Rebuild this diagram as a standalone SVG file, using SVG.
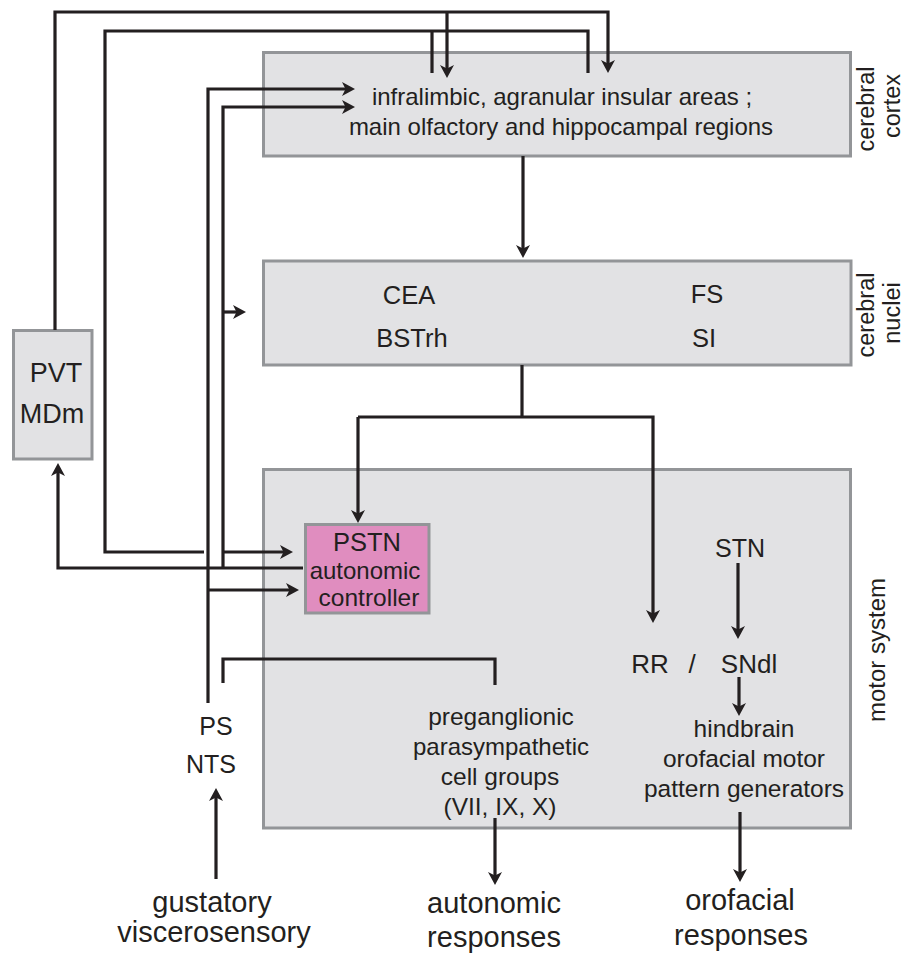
<svg xmlns="http://www.w3.org/2000/svg" width="907" height="956" viewBox="0 0 907 956">
<style>
.box{fill:#e2e2e4;stroke:#939598;stroke-width:3}
.pink{fill:#e08dbf;stroke:#939598;stroke-width:3}
text{font-family:"Liberation Sans",Arial,sans-serif;fill:#231f20;text-anchor:middle}
.c{fill:none;stroke:#231f20;stroke-width:3.2;stroke-linejoin:miter}
.a{marker-end:url(#ah)}
</style>
<defs>
<marker id="ah" viewBox="-10 -8 16 16" refX="0" refY="0" markerWidth="16" markerHeight="16" orient="auto" markerUnits="userSpaceOnUse">
<path d="M-9,-7 L4,0 L-9,7 L-5.5,0 z" fill="#231f20"/>
</marker>
</defs>
<rect width="907" height="956" fill="#ffffff"/>
<g id="cortex">
<rect class="box" x="263.5" y="52.5" width="587" height="103.5"/>
<text x="562" y="105" font-size="24">infralimbic, agranular insular areas ;</text>
<text x="561" y="135" font-size="24">main olfactory and hippocampal regions</text>
<text transform="translate(874,109) rotate(-90)" font-size="23.5">cerebral</text>
<text transform="translate(900,106) rotate(-90)" font-size="23.5">cortex</text>
</g>
<g id="nuclei">
<rect class="box" x="263.5" y="261" width="587.5" height="104"/>
<text x="409" y="304" font-size="25.5">CEA</text>
<text x="412" y="347" font-size="25.5">BSTrh</text>
<text x="707" y="303" font-size="25.5">FS</text>
<text x="704" y="347" font-size="25.5">SI</text>
<text transform="translate(874,315) rotate(-90)" font-size="23.5">cerebral</text>
<text transform="translate(900,313) rotate(-90)" font-size="23.5">nuclei</text>
</g>
<g id="pvt">
<rect class="box" x="13.5" y="330.5" width="78.5" height="128.5"/>
<text x="56" y="382" font-size="27">PVT</text>
<text x="52" y="423" font-size="27">MDm</text>
</g>
<g id="motor">
<rect class="box" x="263.5" y="469.5" width="587" height="358.5"/>
<text transform="translate(885,650) rotate(-90)" font-size="24">motor system</text>
</g>
<g id="pstn">
<rect class="pink" x="305.5" y="524.5" width="123.5" height="88.5"/>
<text x="367" y="551" font-size="25.5">PSTN</text>
<text x="365" y="579" font-size="24">autonomic</text>
<text x="369" y="606" font-size="24.5">controller</text>
</g>
<g id="stn"><text x="740" y="557" font-size="25">STN</text></g>
<g id="rr-sndl">
<text x="650" y="673" font-size="26">RR</text>
<text x="692" y="673" font-size="26">/</text>
<text x="749" y="673" font-size="26">SNdl</text>
</g>
<g id="hindbrain">
<text x="744" y="737" font-size="24.5">hindbrain</text>
<text x="744" y="767" font-size="24.5">orofacial motor</text>
<text x="744" y="797" font-size="24.5">pattern generators</text>
</g>
<g id="preganglionic">
<text x="501" y="725" font-size="24.5">preganglionic</text>
<text x="501" y="755" font-size="24">parasympathetic</text>
<text x="500" y="785" font-size="24.5">cell groups</text>
<text x="500" y="815" font-size="24.5">(VII, IX, X)</text>
</g>
<g id="ps-nts">
<text x="216" y="735" font-size="25">PS</text>
<text x="211" y="773" font-size="25">NTS</text>
</g>
<g id="gustatory">
<text x="212" y="912" font-size="29">gustatory</text>
<text x="214" y="942" font-size="29">viscerosensory</text>
</g>
<g id="autonomic-responses">
<text x="494" y="913" font-size="29">autonomic</text>
<text x="494" y="947" font-size="29">responses</text>
</g>
<g id="orofacial-responses">
<text x="740" y="910" font-size="29">orofacial</text>
<text x="741" y="945" font-size="29">responses</text>
</g>
<g id="connectors">
<path class="c a" d="M55,330 V12 H608 V69"/>
<path class="c a" d="M447,12 V74"/>
<path class="c" d="M588,73 V31 H105 V552 H204"/>
<path class="c" d="M432,31 V73"/>
<path class="c a" d="M223,552 H289"/>
<path class="c a" d="M303,568 H58 V467"/>
<path class="c a" d="M223,568 V107 H351"/>
<path class="c a" d="M223,312 H242"/>
<path class="c a" d="M208,703 V89 H351"/>
<path class="c a" d="M208,590 H295"/>
<path class="c" d="M223,683 V659 H495 V685"/>
<path class="c a" d="M523,156 V254"/>
<path class="c" d="M522,365 V417"/>
<path class="c a" d="M358,417 H653 V619"/>
<path class="c a" d="M358,417 V519"/>
<path class="c a" d="M738,563 V635"/>
<path class="c a" d="M739,677 V712"/>
<path class="c a" d="M740,812 V878"/>
<path class="c a" d="M495,818 V881"/>
<path class="c a" d="M216,879 V792"/>
</g>
</svg>
